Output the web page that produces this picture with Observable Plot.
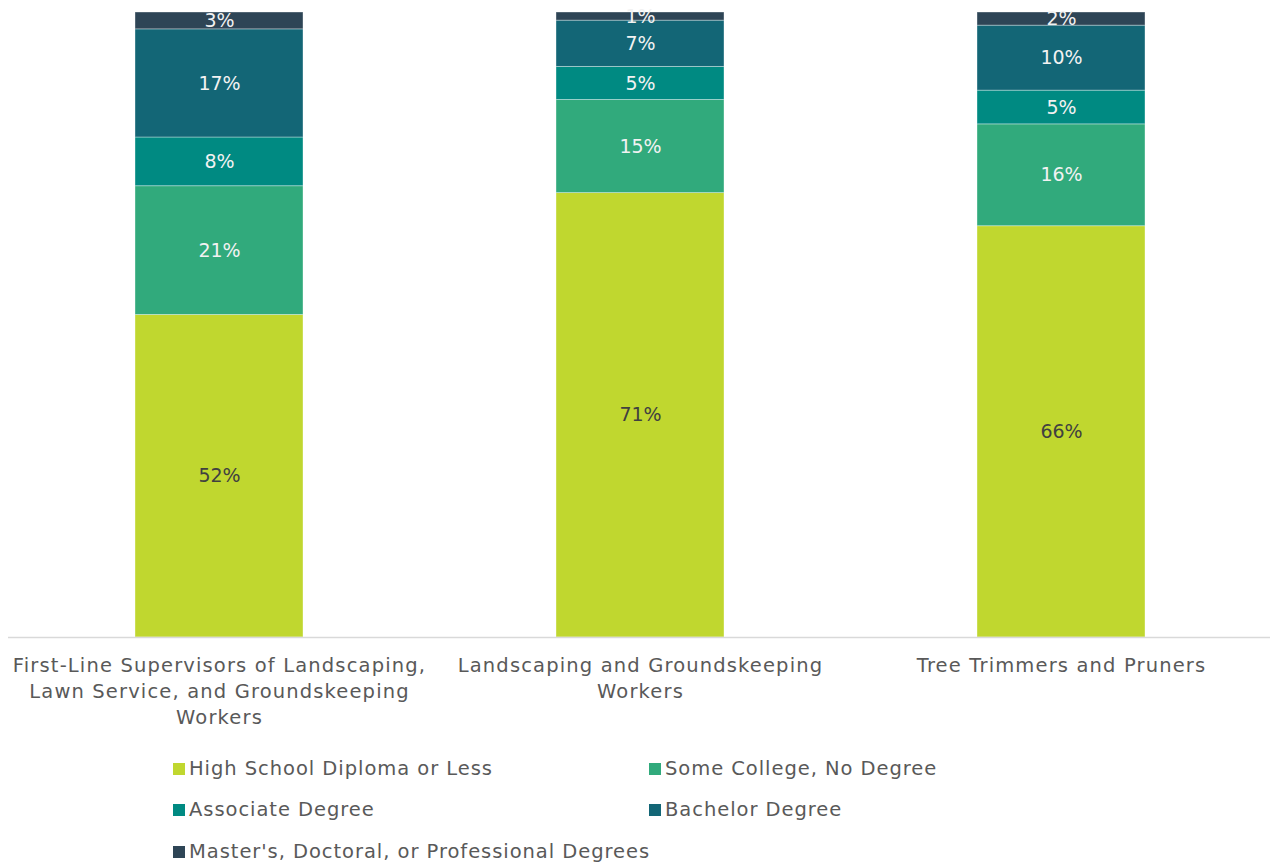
<!DOCTYPE html>
<html>
<head>
<meta charset="utf-8">
<script src="https://cdn.jsdelivr.net/npm/d3@7"></script>
<script src="https://cdn.jsdelivr.net/npm/@observablehq/plot@0.6"></script>
<style>
  html, body { margin: 0; padding: 0; background: #fff; }
  body { width: 1270px; height: 862px; overflow: hidden; font-family: "DejaVu Sans", sans-serif; }
  #chart svg { display: block; }
  #chart svg g[aria-label="x-axis tick label"] { letter-spacing: 1.15px; }
  #legend { position: relative; height: 117px; }
  .item { position: absolute; display: flex; align-items: center; font-size: 19.5px; letter-spacing: 0.95px; color: #595959; white-space: nowrap; }
  .sw { width: 12px; height: 12px; margin-right: 4px; }
</style>
</head>
<body>
<div id="chart"></div>
<div id="legend"></div>
<script>
const occupations = [
  "First-Line Supervisors of Landscaping,\nLawn Service, and Groundskeeping\nWorkers",
  "Landscaping and Groundskeeping\nWorkers",
  "Tree Trimmers and Pruners"
];
const levels = [
  "High School Diploma or Less",
  "Some College, No Degree",
  "Associate Degree",
  "Bachelor Degree",
  "Master's, Doctoral, or Professional Degrees"
];
const colors = ["#c0d72f", "#31aa7c", "#008a82", "#136676", "#2e4556"];
// percent by level, one entry per occupation
const highSchool = [51.6, 71.1, 65.8];
const someCollege = [20.6, 14.9, 16.3];
const associate = [7.8, 5.3, 5.4];
const bachelor = [17.3, 7.4, 10.4];
const masters = [2.7, 1.3, 2.1];

const series = [highSchool, someCollege, associate, bachelor, masters];
const data = [];
occupations.forEach((occ, i) => {
  levels.forEach((lvl, j) => {
    data.push({occupation: occ, level: lvl, value: series[j][i]});
  });
});

const stack = {x: "occupation", y: "value", z: "level", order: levels};

const chart = Plot.plot({
  width: 1270,
  height: 745,
  marginTop: 12,
  marginBottom: 108,
  marginLeft: 8,
  marginRight: -3,
  style: {fontFamily: "DejaVu Sans, sans-serif", background: "#fff"},
  x: {domain: occupations, paddingInner: 0.6, paddingOuter: 0.3, label: null},
  y: {domain: [0, 100], axis: null},
  color: {domain: levels, range: colors},
  marks: [
    Plot.barY(data, Plot.stackY({...stack, fill: "level", stroke: "#ffffff", strokeOpacity: 0.45, strokeWidth: 0.8})),
    Plot.text(data, Plot.stackY({
      ...stack,
      text: d => Math.round(d.value) + "%",
      fill: d => d.level === levels[0] ? "#404040" : "#f2f2f2",
      fontSize: 19
    })),
    Plot.ruleY([0], {stroke: "#d9d9d9", strokeWidth: 1.5}),
    Plot.axisX({
      tickSize: 0,
      tickPadding: 16,
      fontSize: 19.5,
      lineHeight: 1.33,
      fill: "#595959",
      label: null
    })
  ]
});
document.getElementById("chart").appendChild(chart);

const legend = document.getElementById("legend");
const pos = [[173, 12], [649, 12], [173, 53], [649, 53], [173, 95]];
levels.forEach((lvl, j) => {
  const it = document.createElement("div");
  it.className = "item";
  it.style.left = pos[j][0] + "px";
  it.style.top = pos[j][1] + "px";
  const sw = document.createElement("span");
  sw.className = "sw";
  sw.style.background = colors[j];
  const t = document.createElement("span");
  t.textContent = lvl;
  it.appendChild(sw);
  it.appendChild(t);
  legend.appendChild(it);
});
</script>
</body>
</html>
